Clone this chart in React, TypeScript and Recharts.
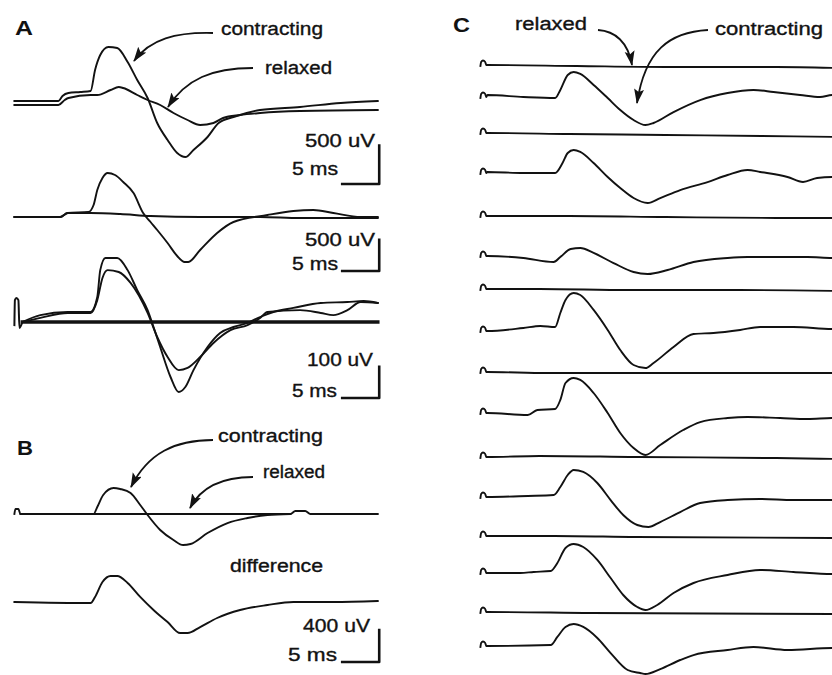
import React from 'react';
import { LineChart, Line, XAxis, YAxis } from 'recharts';

type Pt = [number, number]; // [time ms, microvolts]

// ---------- Panel A, group 1 (scale 500 uV / 5 ms) ----------
const A1_CONTRACTING: Pt[] = [[0,26],[5.95,26],[6.5,91],[7.3,130],[8.9,143],[10.3,156],[10.9,429],[11.6,624],[12.7,728],[13.9,715],[15.3,533],[16.6,299],[18.0,65],[19.3,-260],[20.7,-481],[22.0,-650],[23.1,-702],[24.2,-611],[26.1,-442],[27.6,-260],[29.6,-182],[33.2,-91],[38.6,-52],[44.1,0],[49.1,26]];
const A1_RELAXED: Pt[] = [[0,-26],[5.95,-26],[6.8,39],[7.3,65],[10.3,104],[11.2,104],[13.0,169],[14.1,208],[14.7,195],[16.6,104],[18.0,39],[19.7,-26],[21.5,-130],[23.4,-221],[25.1,-286],[26.9,-260],[28.2,-195],[30.5,-156],[33.2,-130],[38.6,-104],[49.1,-91]];

// ---------- Panel A, group 2 (scale 500 uV / 5 ms) ----------
const A2_CONTRACTING: Pt[] = [[0,0],[6.2,0],[7.2,64],[10.0,80],[10.7,192],[11.2,432],[11.9,624],[12.6,704],[13.6,672],[14.7,560],[16.1,384],[17.4,64],[18.4,-80],[19.3,-208],[20.7,-416],[22.0,-624],[23.0,-720],[23.5,-720],[25.1,-528],[27.4,-256],[29.6,-80],[34.2,32],[37.7,96],[40.4,112],[43.1,64],[46.8,0],[49.1,0]];
const A2_RELAXED: Pt[] = [[0,0],[6.2,0],[7.2,64],[10.3,64],[14.3,48],[18.4,16],[25.1,0],[33.2,0],[38.6,-16],[49.1,-16]];

// ---------- Panel A, group 3 (scale 100 uV / 5 ms) ----------
const A3_ARTIFACT: Pt[] = [[0,-10],[0.07,70],[0.27,77],[0.54,70],[0.68,-19],[1.08,0]];
const A3_RELAXED: Pt[] = [[1.08,0],[49.1,0]];
const A3_CONTRACTING_1: Pt[] = [[1.08,0],[3.5,22],[7.2,32],[10.3,32],[11.2,80],[11.6,166],[12.3,205],[13.9,205],[15.3,166],[16.6,102],[18.0,38],[18.8,-16],[19.7,-80],[21.1,-176],[22.2,-224],[23.1,-208],[24.2,-154],[26.1,-80],[27.8,-35],[29.6,-16],[31.5,-3],[33.2,16],[35.0,32],[37.7,45],[41.4,61],[45.0,64],[47.2,67],[49.1,61]];
const A3_CONTRACTING_2: Pt[] = [[1.08,0],[3.5,13],[7.2,29],[10.3,29],[11.2,70],[11.9,141],[12.6,166],[14.1,160],[15.7,125],[18.0,29],[19.3,-48],[20.7,-112],[22.2,-154],[23.4,-147],[25.1,-112],[26.9,-67],[29.2,-26],[31.5,-10],[33.2,13],[34.2,32],[38.6,38],[41.4,29],[43.1,22],[45.0,38],[46.8,64],[49.1,61]];

// ---------- Panel B (scale 400 uV / 5 ms) ----------
const B_RELAXED: Pt[] = [[0,0],[0.14,63],[0.54,63],[0.81,0],[37.3,0],[37.97,38],[39.3,38],[40,0],[49.1,0]];
const B_CONTRACTING: Pt[] = [[0.81,0],[10.7,0],[11.2,88],[12.0,238],[13.4,325],[14.3,313],[15.7,263],[17.0,113],[18.0,-13],[19.7,-200],[21.5,-325],[22.8,-388],[23.8,-375],[26.1,-238],[28.8,-113],[31.5,-50],[34.2,-13],[37.3,0]];
const B_DIFFERENCE: Pt[] = [[0,0],[10.3,-13],[10.9,63],[11.9,250],[13.0,325],[13.9,325],[15.3,238],[17.0,63],[18.8,-100],[20.7,-250],[22.4,-388],[23.4,-388],[25.1,-313],[27.4,-200],[30.5,-100],[34.2,-38],[37.7,0],[43.1,0],[49.1,13]];

// ---------- Panel C ----------
const C_HOOK: Pt[] = [[0,-13],[0.1,38],[0.35,56],[0.65,38],[0.8,0]];
const C_RELAXED_1: Pt[] = [[0.95,0],[13,-13],[25,-25],[40,-25],[48.6,-38]];
const C_RELAXED_2: Pt[] = [[0.95,0],[12,-13],[25,-25],[38,-38],[48.6,-50]];
const C_RELAXED_3: Pt[] = [[0.95,0],[12,0],[25,-13],[40,-25],[48.6,-25]];
const C_RELAXED_4: Pt[] = [[0.95,0],[8,0],[20,-13],[35,-13],[48.6,-25]];
const C_RELAXED_5: Pt[] = [[0.95,0],[9,-13],[48.6,-13]];
const C_RELAXED_6: Pt[] = [[0.95,0],[8,13],[21,0],[40,-13],[48.6,-25]];
const C_RELAXED_7: Pt[] = [[0.95,0],[10,0],[21,-13],[48.6,-25]];
const C_RELAXED_8: Pt[] = [[0.95,0],[15,-13],[48.6,-25]];

const C_CONTRACTING_1: Pt[] = [[0.95,25],[5.8,0],[10.1,-13],[10.8,88],[11.8,275],[12.6,313],[13.5,288],[15.3,150],[17.2,-13],[18.9,-163],[20.7,-288],[22.3,-350],[23.4,-325],[26.1,-188],[29.7,-38],[33.4,50],[36.9,88],[39.6,63],[43.2,25],[45.9,0],[47.6,25],[48.6,25]];
const C_CONTRACTING_2: Pt[] = [[0.95,13],[5.8,0],[10.1,0],[11.1,125],[11.8,250],[12.6,288],[13.5,263],[15.3,125],[17.2,-50],[18.9,-188],[20.7,-313],[22.6,-375],[24.3,-313],[27.0,-213],[30.7,-113],[33.4,-25],[36.1,38],[37.8,13],[41.5,-50],[43.6,-113],[45.5,-63],[47.6,-50],[48.6,-50]];
const C_CONTRACTING_3: Pt[] = [[0.95,0],[5.8,-25],[9.9,-75],[10.8,-13],[12.2,88],[13.5,100],[15.3,38],[18.0,-88],[20.7,-200],[22.6,-225],[25.3,-175],[28.8,-75],[33.4,-25],[36.1,-13],[39.6,-13],[44.2,-13],[47.6,-25],[48.6,-25]];
const C_CONTRACTING_4: Pt[] = [[0.95,0],[5.8,38],[8.1,63],[10.1,50],[10.8,225],[11.5,388],[12.6,475],[13.5,450],[15.3,263],[17.2,13],[18.9,-238],[20.7,-425],[22.3,-463],[23.4,-400],[26.1,-200],[28.8,-38],[31.5,-25],[35.1,13],[37.8,50],[42.3,50],[47.6,25],[48.6,25]];
const C_CONTRACTING_5: Pt[] = [[0.95,0],[6.4,-25],[7.7,38],[10.1,50],[10.8,163],[11.5,375],[12.6,438],[13.5,413],[15.3,250],[17.2,0],[18.9,-250],[20.7,-438],[22.3,-525],[24.3,-400],[27.4,-213],[29.7,-113],[33.4,-63],[36.1,-50],[40.5,-63],[44.2,-75],[47.6,-63],[48.6,-63]];
const C_CONTRACTING_6: Pt[] = [[0.95,0],[6.4,13],[9.9,25],[10.8,125],[11.8,275],[12.6,338],[13.9,313],[15.8,175],[17.6,-38],[19.3,-225],[21.2,-350],[22.7,-375],[24.3,-313],[27.0,-188],[29.7,-75],[33.4,-38],[37.8,-25],[42.3,-38],[47.6,-38],[48.6,-38]];
const C_CONTRACTING_7: Pt[] = [[0.95,0],[5.4,0],[7.2,13],[9.5,25],[10.4,125],[11.5,313],[12.6,363],[13.9,325],[15.8,163],[17.6,-63],[19.3,-275],[21.2,-425],[22.3,-463],[23.9,-400],[26.1,-250],[28.8,-125],[33.4,-25],[37.8,38],[42.3,13],[47.6,-13],[48.6,-13]];
const C_CONTRACTING_8: Pt[] = [[0.95,0],[9.5,13],[10.4,113],[11.5,238],[12.6,275],[13.9,238],[15.8,100],[17.6,-88],[19.9,-300],[21.6,-338],[22.3,-350],[24.3,-288],[27.0,-175],[28.8,-113],[33.4,-50],[36.9,-13],[41.5,-50],[47.6,-25],[48.6,-25]];

const C_RELAXED = [C_RELAXED_1, C_RELAXED_2, C_RELAXED_3, C_RELAXED_4, C_RELAXED_5, C_RELAXED_6, C_RELAXED_7, C_RELAXED_8];
const C_CONTRACTING = [C_CONTRACTING_1, C_CONTRACTING_2, C_CONTRACTING_3, C_CONTRACTING_4, C_CONTRACTING_5, C_CONTRACTING_6, C_CONTRACTING_7, C_CONTRACTING_8];

// scale bars
const BAR_MS = 5;

// ---------- layout (pixels) ----------
const PX_PER_MS = 7.4;
const T_DOMAIN: [number, number] = [-1, 51];
const PLOT_W = (T_DOMAIN[1] - T_DOMAIN[0]) * PX_PER_MS;
const LEFT_AB = 14 - PX_PER_MS; // t=0 at x=14
const LEFT_C = 480 - PX_PER_MS; // t=0 at x=480
const C_RELAXED_BASE = [65, 133, 216, 289, 372, 457, 536, 612];
const C_CONTRACTING_BASE = [97, 173, 256, 331, 413, 497, 573, 646];

const INK = '#121212';
const TRACE_W = 1.9;

const rows = (pts: Pt[]) => pts.map(([t, v]) => ({ t, v }));

type Series = { pts: Pt[]; w?: number; linear?: boolean };

function Trace({ left, baseline, above, below, uvPerPx, series }: { left: number; baseline: number; above: number; below: number; uvPerPx: number; series: Series[] }) {
  const height = above + below;
  return (
    <div style={{ position: 'absolute', left, top: baseline - above, width: PLOT_W, height }}>
      <LineChart width={PLOT_W} height={height} margin={{ top: 0, right: 0, bottom: 0, left: 0 }}>
        <XAxis type="number" dataKey="t" domain={T_DOMAIN} hide allowDataOverflow />
        <YAxis type="number" dataKey="v" domain={[-below * uvPerPx, above * uvPerPx]} hide allowDataOverflow />
        {series.map((s, i) => (
          <Line
            key={i}
            data={rows(s.pts)}
            dataKey="v"
            type={s.linear ? 'linear' : 'monotone'}
            stroke={INK}
            strokeWidth={s.w ?? TRACE_W}
            strokeLinecap="square"
            strokeLinejoin="round"
            dot={false}
            activeDot={false}
            isAnimationActive={false}
          />
        ))}
      </LineChart>
    </div>
  );
}

// scale bar as an L: horizontal 5 ms, vertical `uv`
const scaleBar = (bottomUv: number, uv: number): Series => ({
  pts: [[49.3 - BAR_MS, bottomUv], [49.3, bottomUv], [49.3, bottomUv + uv]],
  w: 2.6,
  linear: true,
});

const FONT = '"Liberation Sans", Arial, Helvetica, sans-serif';

function Label({ x, y, len, children, bold }: { x: number; y: number; len: number; children: string; bold?: boolean }) {
  return (
    <text x={x} y={y} textLength={len} lengthAdjust="spacingAndGlyphs" fontFamily={FONT} fontSize={bold ? 20 : 18} fontWeight={bold ? 700 : 400} fill={INK} stroke={INK} strokeWidth={bold ? 0 : 0.35}>
      {children}
    </text>
  );
}

function Arrow({ d }: { d: string }) {
  return <path d={d} fill="none" stroke={INK} strokeWidth={1.8} markerEnd="url(#ah)" />;
}

export default function App() {
  return (
    <div style={{ position: 'absolute', left: 0, top: 0, width: 832, height: 675, overflow: 'hidden', background: '#fff' }}>
      {/* Panel A */}
      <Trace left={LEFT_AB} baseline={103} above={65} below={90} uvPerPx={13}
        series={[{ pts: A1_RELAXED }, { pts: A1_CONTRACTING }, scaleBar(-1053, 500)]} />
      <Trace left={LEFT_AB} baseline={217} above={50} below={60} uvPerPx={16}
        series={[{ pts: A2_RELAXED }, { pts: A2_CONTRACTING }, scaleBar(-864, 500)]} />
      <Trace left={LEFT_AB} baseline={322} above={72} below={82} uvPerPx={3.2}
        series={[{ pts: A3_ARTIFACT, w: 2 }, { pts: A3_RELAXED, w: 3.6, linear: true }, { pts: A3_CONTRACTING_1 }, { pts: A3_CONTRACTING_2 }, scaleBar(-243, 100)]} />
      {/* Panel B */}
      <Trace left={LEFT_AB} baseline={514} above={35} below={40} uvPerPx={12.5}
        series={[{ pts: B_RELAXED }, { pts: B_CONTRACTING }]} />
      <Trace left={LEFT_AB} baseline={602} above={35} below={68} uvPerPx={12.5}
        series={[{ pts: B_DIFFERENCE }, scaleBar(-750, 400)]} />
      {/* Panel C */}
      {C_RELAXED.map((pts, i) => (
        <Trace key={'r' + i} left={LEFT_C} baseline={C_RELAXED_BASE[i]} above={40} below={40} uvPerPx={12.5}
          series={[{ pts: [...C_HOOK, ...pts] }]} />
      ))}
      {C_CONTRACTING.map((pts, i) => (
        <Trace key={'c' + i} left={LEFT_C} baseline={C_CONTRACTING_BASE[i]} above={50} below={50} uvPerPx={12.5}
          series={[{ pts: [...C_HOOK, ...pts] }]} />
      ))}

      <svg width={832} height={675} style={{ position: 'absolute', left: 0, top: 0, pointerEvents: 'none' }}>
        <defs>
          <marker id="ah" markerUnits="userSpaceOnUse" markerWidth={16} markerHeight={12} refX={14} refY={5} orient="auto">
            <path d="M0,0 L15,5 L0,10 L3,5 z" fill={INK} />
          </marker>
        </defs>
        {/* A */}
        <Label x={15} y={35} len={18} bold>A</Label>
        <Label x={221} y={35} len={102}>contracting</Label>
        <Label x={265} y={74} len={67}>relaxed</Label>
        <Arrow d="M213,33 C176,32 150,39 134,61" />
        <Arrow d="M253,68 C212,68 186,79 168,107" />
        <Label x={305} y={147} len={70}>500 uV</Label>
        <Label x={292} y={175} len={46}>5 ms</Label>
        <Label x={305} y={246} len={70}>500 uV</Label>
        <Label x={292} y={270} len={46}>5 ms</Label>
        <Label x={307} y={366} len={66}>100 uV</Label>
        <Label x={292} y={397} len={45}>5 ms</Label>
        {/* B */}
        <Label x={17} y={455} len={16} bold>B</Label>
        <Label x={218} y={442} len={105}>contracting</Label>
        <Label x={263} y={478} len={62}>relaxed</Label>
        <Arrow d="M213,440 C175,440 148,453 131,487" />
        <Arrow d="M253,477 C221,477 201,487 190,508" />
        <Label x={230} y={572} len={93}>difference</Label>
        <Label x={303} y={632} len={67}>400 uV</Label>
        <Label x={288} y={661} len={49}>5 ms</Label>
        {/* C */}
        <Label x={453} y={32} len={17} bold>C</Label>
        <Label x={515} y={30} len={72}>relaxed</Label>
        <Label x={715} y={35} len={108}>contracting</Label>
        <Arrow d="M598,30 C615,31 628,42 632,65" />
        <Arrow d="M708,30 C670,32 645,50 637,103" />
      </svg>
    </div>
  );
}
